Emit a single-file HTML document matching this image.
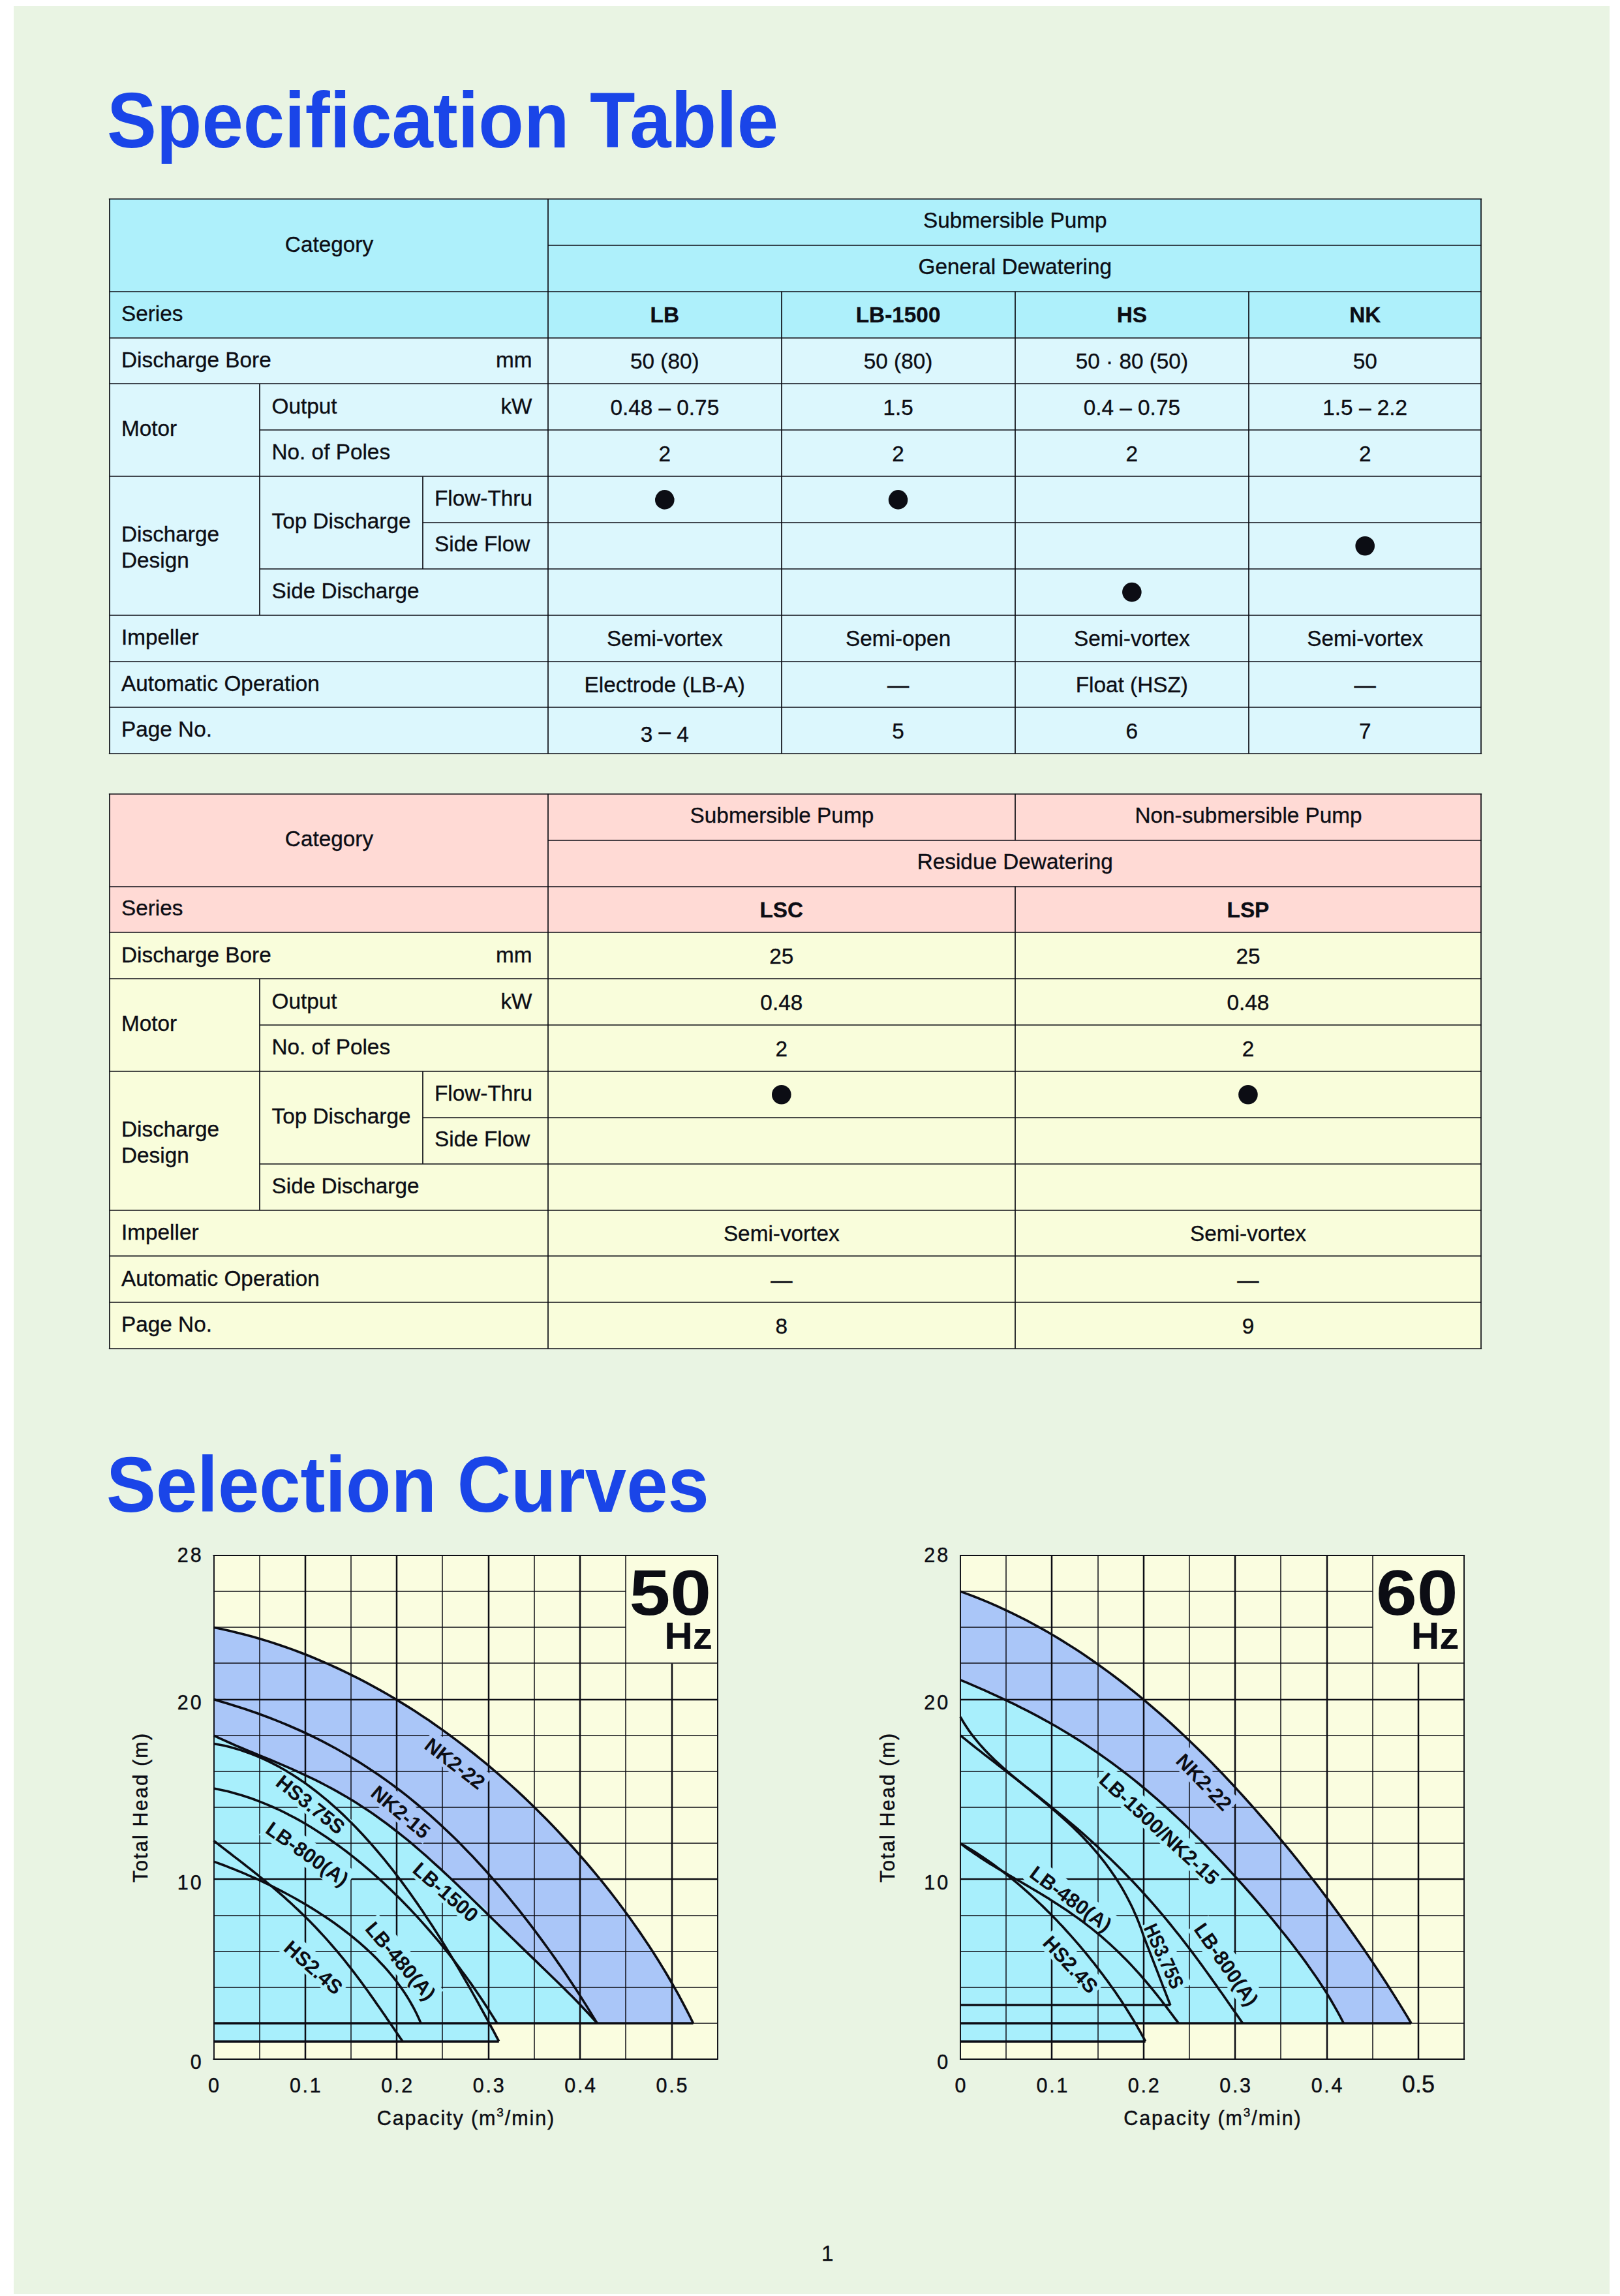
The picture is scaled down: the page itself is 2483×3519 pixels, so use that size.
<!DOCTYPE html>
<html lang="en"><head><meta charset="utf-8"><title>Specification Table</title>
<style>
html,body{margin:0;padding:0;background:#fff}
svg{display:block;font-family:"Liberation Sans", sans-serif}
svg text{white-space:pre}
</style></head><body>
<svg width="2483" height="3519" viewBox="0 0 2483 3519">
<rect x="0.00" y="0.00" width="2483.00" height="3519.00" fill="#ffffff"/>
<rect x="21.00" y="9.00" width="2446.00" height="3507.00" fill="#e9f4e3"/>
<text transform="translate(163.9,225.8) scale(0.941,1)" font-size="121" font-weight="bold" fill="#1a45e8">Specification Table</text>
<text transform="translate(163.0,2316.6) scale(0.941,1)" font-size="121" font-weight="bold" fill="#1a45e8">Selection Curves</text>
<rect x="167.70" y="305.00" width="2102.60" height="212.58" fill="#aef0fb"/>
<rect x="167.70" y="517.58" width="2102.60" height="637.74" fill="#dcf7fd"/>
<line x1="166.85" y1="305.00" x2="2271.15" y2="305.00" stroke="#0c0d14" stroke-width="1.7" stroke-linecap="butt"/>
<line x1="840.00" y1="376.00" x2="2270.30" y2="376.00" stroke="#0c0d14" stroke-width="1.7" stroke-linecap="butt"/>
<line x1="167.70" y1="447.00" x2="2270.30" y2="447.00" stroke="#0c0d14" stroke-width="1.7" stroke-linecap="butt"/>
<line x1="167.70" y1="518.00" x2="2270.30" y2="518.00" stroke="#0c0d14" stroke-width="1.7" stroke-linecap="butt"/>
<line x1="167.70" y1="588.00" x2="2270.30" y2="588.00" stroke="#0c0d14" stroke-width="1.7" stroke-linecap="butt"/>
<line x1="398.20" y1="659.00" x2="2270.30" y2="659.00" stroke="#0c0d14" stroke-width="1.7" stroke-linecap="butt"/>
<line x1="167.70" y1="730.00" x2="2270.30" y2="730.00" stroke="#0c0d14" stroke-width="1.7" stroke-linecap="butt"/>
<line x1="647.70" y1="801.00" x2="2270.30" y2="801.00" stroke="#0c0d14" stroke-width="1.7" stroke-linecap="butt"/>
<line x1="398.20" y1="872.00" x2="2270.30" y2="872.00" stroke="#0c0d14" stroke-width="1.7" stroke-linecap="butt"/>
<line x1="167.70" y1="943.00" x2="2270.30" y2="943.00" stroke="#0c0d14" stroke-width="1.7" stroke-linecap="butt"/>
<line x1="167.70" y1="1014.00" x2="2270.30" y2="1014.00" stroke="#0c0d14" stroke-width="1.7" stroke-linecap="butt"/>
<line x1="167.70" y1="1084.00" x2="2270.30" y2="1084.00" stroke="#0c0d14" stroke-width="1.7" stroke-linecap="butt"/>
<line x1="166.85" y1="1155.00" x2="2271.15" y2="1155.00" stroke="#0c0d14" stroke-width="1.7" stroke-linecap="butt"/>
<line x1="168.00" y1="305.00" x2="168.00" y2="1155.32" stroke="#0c0d14" stroke-width="1.7" stroke-linecap="butt"/>
<line x1="2270.00" y1="305.00" x2="2270.00" y2="1155.32" stroke="#0c0d14" stroke-width="1.7" stroke-linecap="butt"/>
<line x1="840.00" y1="305.00" x2="840.00" y2="1155.32" stroke="#0c0d14" stroke-width="1.7" stroke-linecap="butt"/>
<line x1="398.00" y1="588.44" x2="398.00" y2="942.74" stroke="#0c0d14" stroke-width="1.7" stroke-linecap="butt"/>
<line x1="648.00" y1="730.16" x2="648.00" y2="871.88" stroke="#0c0d14" stroke-width="1.7" stroke-linecap="butt"/>
<line x1="1198.00" y1="446.72" x2="1198.00" y2="1155.32" stroke="#0c0d14" stroke-width="1.7" stroke-linecap="butt"/>
<line x1="1556.00" y1="446.72" x2="1556.00" y2="1155.32" stroke="#0c0d14" stroke-width="1.7" stroke-linecap="butt"/>
<line x1="1914.00" y1="446.72" x2="1914.00" y2="1155.32" stroke="#0c0d14" stroke-width="1.7" stroke-linecap="butt"/>
<text x="504.45" y="385.60" font-size="33.33" text-anchor="middle" font-weight="normal" fill="#0c0d14" stroke="#0c0d14" stroke-width="0.35">Category</text>
<text x="186.00" y="491.52" font-size="33.33" text-anchor="start" font-weight="normal" fill="#0c0d14" stroke="#0c0d14" stroke-width="0.35">Series</text>
<text x="186.00" y="563.28" font-size="33.33" text-anchor="start" font-weight="normal" fill="#0c0d14" stroke="#0c0d14" stroke-width="0.35">Discharge Bore</text>
<text x="815.50" y="563.28" font-size="33.33" text-anchor="end" font-weight="normal" fill="#0c0d14" stroke="#0c0d14" stroke-width="0.35">mm</text>
<text x="186.00" y="668.44" font-size="33.33" text-anchor="start" font-weight="normal" fill="#0c0d14" stroke="#0c0d14" stroke-width="0.35">Motor</text>
<text x="416.50" y="634.44" font-size="33.33" text-anchor="start" font-weight="normal" fill="#0c0d14" stroke="#0c0d14" stroke-width="0.35">Output</text>
<text x="815.50" y="634.44" font-size="33.33" text-anchor="end" font-weight="normal" fill="#0c0d14" stroke="#0c0d14" stroke-width="0.35">kW</text>
<text x="416.50" y="704.00" font-size="33.33" text-anchor="start" font-weight="normal" fill="#0c0d14" stroke="#0c0d14" stroke-width="0.35">No. of Poles</text>
<text x="186.00" y="830.06" font-size="33.33" text-anchor="start" font-weight="normal" fill="#0c0d14" stroke="#0c0d14" stroke-width="0.35">Discharge</text>
<text x="186.00" y="870.06" font-size="33.33" text-anchor="start" font-weight="normal" fill="#0c0d14" stroke="#0c0d14" stroke-width="0.35">Design</text>
<text x="416.50" y="810.06" font-size="33.33" text-anchor="start" font-weight="normal" fill="#0c0d14" stroke="#0c0d14" stroke-width="0.35">Top Discharge</text>
<text x="666.00" y="774.86" font-size="33.33" text-anchor="start" font-weight="normal" fill="#0c0d14" stroke="#0c0d14" stroke-width="0.35">Flow-Thru</text>
<text x="666.00" y="845.22" font-size="33.33" text-anchor="start" font-weight="normal" fill="#0c0d14" stroke="#0c0d14" stroke-width="0.35">Side Flow</text>
<text x="416.50" y="916.78" font-size="33.33" text-anchor="start" font-weight="normal" fill="#0c0d14" stroke="#0c0d14" stroke-width="0.35">Side Discharge</text>
<text x="186.00" y="988.24" font-size="33.33" text-anchor="start" font-weight="normal" fill="#0c0d14" stroke="#0c0d14" stroke-width="0.35">Impeller</text>
<text x="186.00" y="1059.40" font-size="33.33" text-anchor="start" font-weight="normal" fill="#0c0d14" stroke="#0c0d14" stroke-width="0.35">Automatic Operation</text>
<text x="186.00" y="1129.46" font-size="33.33" text-anchor="start" font-weight="normal" fill="#0c0d14" stroke="#0c0d14" stroke-width="0.35">Page No.</text>
<text x="1555.75" y="349.40" font-size="33.33" text-anchor="middle" font-weight="normal" fill="#0c0d14" stroke="#0c0d14" stroke-width="0.35">Submersible Pump</text>
<text x="1555.75" y="420.26" font-size="33.33" text-anchor="middle" font-weight="normal" fill="#0c0d14" stroke="#0c0d14" stroke-width="0.35">General Dewatering</text>
<text x="1018.80" y="494.32" font-size="33.33" text-anchor="middle" font-weight="bold" fill="#0c0d14" stroke="#0c0d14" stroke-width="0.35">LB</text>
<text x="1376.60" y="494.32" font-size="33.33" text-anchor="middle" font-weight="bold" fill="#0c0d14" stroke="#0c0d14" stroke-width="0.35">LB-1500</text>
<text x="1734.85" y="494.32" font-size="33.33" text-anchor="middle" font-weight="bold" fill="#0c0d14" stroke="#0c0d14" stroke-width="0.35">HS</text>
<text x="2092.20" y="494.32" font-size="33.33" text-anchor="middle" font-weight="bold" fill="#0c0d14" stroke="#0c0d14" stroke-width="0.35">NK</text>
<text x="1018.80" y="565.18" font-size="33.33" text-anchor="middle" font-weight="normal" fill="#0c0d14" stroke="#0c0d14" stroke-width="0.35">50 (80)</text>
<text x="1376.60" y="565.18" font-size="33.33" text-anchor="middle" font-weight="normal" fill="#0c0d14" stroke="#0c0d14" stroke-width="0.35">50 (80)</text>
<text x="1734.85" y="565.18" font-size="33.33" text-anchor="middle" font-weight="normal" fill="#0c0d14" stroke="#0c0d14" stroke-width="0.35">50 · 80 (50)</text>
<text x="2092.20" y="565.18" font-size="33.33" text-anchor="middle" font-weight="normal" fill="#0c0d14" stroke="#0c0d14" stroke-width="0.35">50</text>
<text x="1018.80" y="636.04" font-size="33.33" text-anchor="middle" font-weight="normal" fill="#0c0d14" stroke="#0c0d14" stroke-width="0.35">0.48 – 0.75</text>
<text x="1376.60" y="636.04" font-size="33.33" text-anchor="middle" font-weight="normal" fill="#0c0d14" stroke="#0c0d14" stroke-width="0.35">1.5</text>
<text x="1734.85" y="636.04" font-size="33.33" text-anchor="middle" font-weight="normal" fill="#0c0d14" stroke="#0c0d14" stroke-width="0.35">0.4 – 0.75</text>
<text x="2092.20" y="636.04" font-size="33.33" text-anchor="middle" font-weight="normal" fill="#0c0d14" stroke="#0c0d14" stroke-width="0.35">1.5 – 2.2</text>
<text x="1018.80" y="706.90" font-size="33.33" text-anchor="middle" font-weight="normal" fill="#0c0d14" stroke="#0c0d14" stroke-width="0.35">2</text>
<text x="1376.60" y="706.90" font-size="33.33" text-anchor="middle" font-weight="normal" fill="#0c0d14" stroke="#0c0d14" stroke-width="0.35">2</text>
<text x="1734.85" y="706.90" font-size="33.33" text-anchor="middle" font-weight="normal" fill="#0c0d14" stroke="#0c0d14" stroke-width="0.35">2</text>
<text x="2092.20" y="706.90" font-size="33.33" text-anchor="middle" font-weight="normal" fill="#0c0d14" stroke="#0c0d14" stroke-width="0.35">2</text>
<circle cx="1018.80" cy="765.89" r="14.8" fill="#0c0d14"/>
<circle cx="1376.60" cy="765.89" r="14.8" fill="#0c0d14"/>
<circle cx="2092.20" cy="836.75" r="14.8" fill="#0c0d14"/>
<circle cx="1734.85" cy="907.61" r="14.8" fill="#0c0d14"/>
<text x="1018.80" y="990.34" font-size="33.33" text-anchor="middle" font-weight="normal" fill="#0c0d14" stroke="#0c0d14" stroke-width="0.35">Semi-vortex</text>
<text x="1376.60" y="990.34" font-size="33.33" text-anchor="middle" font-weight="normal" fill="#0c0d14" stroke="#0c0d14" stroke-width="0.35">Semi-open</text>
<text x="1734.85" y="990.34" font-size="33.33" text-anchor="middle" font-weight="normal" fill="#0c0d14" stroke="#0c0d14" stroke-width="0.35">Semi-vortex</text>
<text x="2092.20" y="990.34" font-size="33.33" text-anchor="middle" font-weight="normal" fill="#0c0d14" stroke="#0c0d14" stroke-width="0.35">Semi-vortex</text>
<text x="1018.80" y="1061.20" font-size="33.33" text-anchor="middle" font-weight="normal" fill="#0c0d14" stroke="#0c0d14" stroke-width="0.35">Electrode (LB-A)</text>
<text x="1376.60" y="1061.20" font-size="33.33" text-anchor="middle" font-weight="normal" fill="#0c0d14" stroke="#0c0d14" stroke-width="0.35">—</text>
<text x="1734.85" y="1061.20" font-size="33.33" text-anchor="middle" font-weight="normal" fill="#0c0d14" stroke="#0c0d14" stroke-width="0.35">Float (HSZ)</text>
<text x="2092.20" y="1061.20" font-size="33.33" text-anchor="middle" font-weight="normal" fill="#0c0d14" stroke="#0c0d14" stroke-width="0.35">—</text>
<text x="1018.80" y="1136.76" font-size="33.33" text-anchor="middle" font-weight="normal" fill="#0c0d14" stroke="#0c0d14" stroke-width="0.35">3 <tspan dy="-5">–</tspan><tspan dy="5"> </tspan>4</text>
<text x="1376.60" y="1132.06" font-size="33.33" text-anchor="middle" font-weight="normal" fill="#0c0d14" stroke="#0c0d14" stroke-width="0.35">5</text>
<text x="1734.85" y="1132.06" font-size="33.33" text-anchor="middle" font-weight="normal" fill="#0c0d14" stroke="#0c0d14" stroke-width="0.35">6</text>
<text x="2092.20" y="1132.06" font-size="33.33" text-anchor="middle" font-weight="normal" fill="#0c0d14" stroke="#0c0d14" stroke-width="0.35">7</text>
<rect x="167.70" y="1216.80" width="2102.60" height="212.58" fill="#ffdad5"/>
<rect x="167.70" y="1429.38" width="2102.60" height="637.74" fill="#f9fddb"/>
<line x1="166.85" y1="1217.00" x2="2271.15" y2="1217.00" stroke="#0c0d14" stroke-width="1.7" stroke-linecap="butt"/>
<line x1="840.00" y1="1288.00" x2="2270.30" y2="1288.00" stroke="#0c0d14" stroke-width="1.7" stroke-linecap="butt"/>
<line x1="167.70" y1="1359.00" x2="2270.30" y2="1359.00" stroke="#0c0d14" stroke-width="1.7" stroke-linecap="butt"/>
<line x1="167.70" y1="1429.00" x2="2270.30" y2="1429.00" stroke="#0c0d14" stroke-width="1.7" stroke-linecap="butt"/>
<line x1="167.70" y1="1500.00" x2="2270.30" y2="1500.00" stroke="#0c0d14" stroke-width="1.7" stroke-linecap="butt"/>
<line x1="398.20" y1="1571.00" x2="2270.30" y2="1571.00" stroke="#0c0d14" stroke-width="1.7" stroke-linecap="butt"/>
<line x1="167.70" y1="1642.00" x2="2270.30" y2="1642.00" stroke="#0c0d14" stroke-width="1.7" stroke-linecap="butt"/>
<line x1="647.70" y1="1713.00" x2="2270.30" y2="1713.00" stroke="#0c0d14" stroke-width="1.7" stroke-linecap="butt"/>
<line x1="398.20" y1="1784.00" x2="2270.30" y2="1784.00" stroke="#0c0d14" stroke-width="1.7" stroke-linecap="butt"/>
<line x1="167.70" y1="1855.00" x2="2270.30" y2="1855.00" stroke="#0c0d14" stroke-width="1.7" stroke-linecap="butt"/>
<line x1="167.70" y1="1925.00" x2="2270.30" y2="1925.00" stroke="#0c0d14" stroke-width="1.7" stroke-linecap="butt"/>
<line x1="167.70" y1="1996.00" x2="2270.30" y2="1996.00" stroke="#0c0d14" stroke-width="1.7" stroke-linecap="butt"/>
<line x1="166.85" y1="2067.00" x2="2271.15" y2="2067.00" stroke="#0c0d14" stroke-width="1.7" stroke-linecap="butt"/>
<line x1="168.00" y1="1216.80" x2="168.00" y2="2067.12" stroke="#0c0d14" stroke-width="1.7" stroke-linecap="butt"/>
<line x1="2270.00" y1="1216.80" x2="2270.00" y2="2067.12" stroke="#0c0d14" stroke-width="1.7" stroke-linecap="butt"/>
<line x1="840.00" y1="1216.80" x2="840.00" y2="2067.12" stroke="#0c0d14" stroke-width="1.7" stroke-linecap="butt"/>
<line x1="398.00" y1="1500.24" x2="398.00" y2="1854.54" stroke="#0c0d14" stroke-width="1.7" stroke-linecap="butt"/>
<line x1="648.00" y1="1641.96" x2="648.00" y2="1783.68" stroke="#0c0d14" stroke-width="1.7" stroke-linecap="butt"/>
<line x1="1556.00" y1="1358.52" x2="1556.00" y2="2067.12" stroke="#0c0d14" stroke-width="1.7" stroke-linecap="butt"/>
<text x="504.45" y="1297.40" font-size="33.33" text-anchor="middle" font-weight="normal" fill="#0c0d14" stroke="#0c0d14" stroke-width="0.35">Category</text>
<text x="186.00" y="1403.32" font-size="33.33" text-anchor="start" font-weight="normal" fill="#0c0d14" stroke="#0c0d14" stroke-width="0.35">Series</text>
<text x="186.00" y="1475.08" font-size="33.33" text-anchor="start" font-weight="normal" fill="#0c0d14" stroke="#0c0d14" stroke-width="0.35">Discharge Bore</text>
<text x="815.50" y="1475.08" font-size="33.33" text-anchor="end" font-weight="normal" fill="#0c0d14" stroke="#0c0d14" stroke-width="0.35">mm</text>
<text x="186.00" y="1580.24" font-size="33.33" text-anchor="start" font-weight="normal" fill="#0c0d14" stroke="#0c0d14" stroke-width="0.35">Motor</text>
<text x="416.50" y="1546.24" font-size="33.33" text-anchor="start" font-weight="normal" fill="#0c0d14" stroke="#0c0d14" stroke-width="0.35">Output</text>
<text x="815.50" y="1546.24" font-size="33.33" text-anchor="end" font-weight="normal" fill="#0c0d14" stroke="#0c0d14" stroke-width="0.35">kW</text>
<text x="416.50" y="1615.80" font-size="33.33" text-anchor="start" font-weight="normal" fill="#0c0d14" stroke="#0c0d14" stroke-width="0.35">No. of Poles</text>
<text x="186.00" y="1741.86" font-size="33.33" text-anchor="start" font-weight="normal" fill="#0c0d14" stroke="#0c0d14" stroke-width="0.35">Discharge</text>
<text x="186.00" y="1781.86" font-size="33.33" text-anchor="start" font-weight="normal" fill="#0c0d14" stroke="#0c0d14" stroke-width="0.35">Design</text>
<text x="416.50" y="1721.86" font-size="33.33" text-anchor="start" font-weight="normal" fill="#0c0d14" stroke="#0c0d14" stroke-width="0.35">Top Discharge</text>
<text x="666.00" y="1686.66" font-size="33.33" text-anchor="start" font-weight="normal" fill="#0c0d14" stroke="#0c0d14" stroke-width="0.35">Flow-Thru</text>
<text x="666.00" y="1757.02" font-size="33.33" text-anchor="start" font-weight="normal" fill="#0c0d14" stroke="#0c0d14" stroke-width="0.35">Side Flow</text>
<text x="416.50" y="1828.58" font-size="33.33" text-anchor="start" font-weight="normal" fill="#0c0d14" stroke="#0c0d14" stroke-width="0.35">Side Discharge</text>
<text x="186.00" y="1900.04" font-size="33.33" text-anchor="start" font-weight="normal" fill="#0c0d14" stroke="#0c0d14" stroke-width="0.35">Impeller</text>
<text x="186.00" y="1971.20" font-size="33.33" text-anchor="start" font-weight="normal" fill="#0c0d14" stroke="#0c0d14" stroke-width="0.35">Automatic Operation</text>
<text x="186.00" y="2041.26" font-size="33.33" text-anchor="start" font-weight="normal" fill="#0c0d14" stroke="#0c0d14" stroke-width="0.35">Page No.</text>
<text x="1198.40" y="1261.20" font-size="33.33" text-anchor="middle" font-weight="normal" fill="#0c0d14" stroke="#0c0d14" stroke-width="0.35">Submersible Pump</text>
<text x="1913.55" y="1261.20" font-size="33.33" text-anchor="middle" font-weight="normal" fill="#0c0d14" stroke="#0c0d14" stroke-width="0.35">Non-submersible Pump</text>
<text x="1555.75" y="1332.06" font-size="33.33" text-anchor="middle" font-weight="normal" fill="#0c0d14" stroke="#0c0d14" stroke-width="0.35">Residue Dewatering</text>
<text x="1197.80" y="1406.12" font-size="33.33" text-anchor="middle" font-weight="bold" fill="#0c0d14" stroke="#0c0d14" stroke-width="0.35">LSC</text>
<text x="1912.95" y="1406.12" font-size="33.33" text-anchor="middle" font-weight="bold" fill="#0c0d14" stroke="#0c0d14" stroke-width="0.35">LSP</text>
<text x="1197.80" y="1476.98" font-size="33.33" text-anchor="middle" font-weight="normal" fill="#0c0d14" stroke="#0c0d14" stroke-width="0.35">25</text>
<text x="1912.95" y="1476.98" font-size="33.33" text-anchor="middle" font-weight="normal" fill="#0c0d14" stroke="#0c0d14" stroke-width="0.35">25</text>
<text x="1197.80" y="1547.84" font-size="33.33" text-anchor="middle" font-weight="normal" fill="#0c0d14" stroke="#0c0d14" stroke-width="0.35">0.48</text>
<text x="1912.95" y="1547.84" font-size="33.33" text-anchor="middle" font-weight="normal" fill="#0c0d14" stroke="#0c0d14" stroke-width="0.35">0.48</text>
<text x="1197.80" y="1618.70" font-size="33.33" text-anchor="middle" font-weight="normal" fill="#0c0d14" stroke="#0c0d14" stroke-width="0.35">2</text>
<text x="1912.95" y="1618.70" font-size="33.33" text-anchor="middle" font-weight="normal" fill="#0c0d14" stroke="#0c0d14" stroke-width="0.35">2</text>
<circle cx="1197.80" cy="1677.69" r="14.8" fill="#0c0d14"/>
<circle cx="1912.95" cy="1677.69" r="14.8" fill="#0c0d14"/>
<text x="1197.80" y="1902.14" font-size="33.33" text-anchor="middle" font-weight="normal" fill="#0c0d14" stroke="#0c0d14" stroke-width="0.35">Semi-vortex</text>
<text x="1912.95" y="1902.14" font-size="33.33" text-anchor="middle" font-weight="normal" fill="#0c0d14" stroke="#0c0d14" stroke-width="0.35">Semi-vortex</text>
<text x="1197.80" y="1973.00" font-size="33.33" text-anchor="middle" font-weight="normal" fill="#0c0d14" stroke="#0c0d14" stroke-width="0.35">—</text>
<text x="1912.95" y="1973.00" font-size="33.33" text-anchor="middle" font-weight="normal" fill="#0c0d14" stroke="#0c0d14" stroke-width="0.35">—</text>
<text x="1197.80" y="2043.86" font-size="33.33" text-anchor="middle" font-weight="normal" fill="#0c0d14" stroke="#0c0d14" stroke-width="0.35">8</text>
<text x="1912.95" y="2043.86" font-size="33.33" text-anchor="middle" font-weight="normal" fill="#0c0d14" stroke="#0c0d14" stroke-width="0.35">9</text>
<line x1="1556.00" y1="1216.80" x2="1556.00" y2="1287.66" stroke="#0c0d14" stroke-width="1.7" stroke-linecap="butt"/>
<rect x="327.50" y="2383.96" width="772.20" height="772.24" fill="#fafde0"/>
<polygon points="327.5,2494.3 339.7,2496.8 351.9,2499.5 364.0,2502.4 376.1,2505.5 388.2,2508.8 400.1,2512.3 412.1,2515.9 423.9,2519.8 435.7,2523.8 447.5,2527.9 459.1,2532.3 470.8,2536.8 482.3,2541.5 493.8,2546.4 505.2,2551.4 516.5,2556.5 527.8,2561.8 539.0,2567.3 550.1,2572.9 561.1,2578.7 572.1,2584.6 583.0,2590.6 593.8,2596.8 604.6,2603.1 615.2,2609.6 625.8,2616.1 636.3,2622.8 646.7,2629.7 657.1,2636.6 667.3,2643.7 677.5,2650.9 687.6,2658.2 697.6,2665.6 707.5,2673.1 717.4,2680.7 727.2,2688.5 736.9,2696.3 746.5,2704.2 756.0,2712.3 765.4,2720.4 774.8,2728.7 784.1,2737.0 793.3,2745.4 802.4,2753.9 811.4,2762.5 820.4,2771.2 829.2,2780.0 838.0,2788.8 846.7,2797.7 855.3,2806.8 863.8,2815.9 872.2,2825.0 880.6,2834.3 888.8,2843.6 897.0,2853.0 905.1,2862.5 913.1,2872.1 921.0,2881.7 928.8,2891.4 936.5,2901.2 944.1,2911.0 951.6,2921.0 959.0,2931.0 966.3,2941.0 973.5,2951.2 980.6,2961.4 987.6,2971.7 994.5,2982.0 1001.3,2992.5 1008.0,3003.0 1014.5,3013.6 1021.0,3024.2 1027.3,3035.0 1033.5,3045.8 1039.6,3056.7 1045.5,3067.6 1051.3,3078.7 1057.0,3089.8 1062.5,3101.0 327.5,3101.0" fill="#aac6f8"/>
<polygon points="327.5,2659.8 335.9,2663.8 344.3,2667.7 352.9,2671.5 361.5,2675.3 370.2,2679.0 378.9,2682.6 387.6,2686.2 396.4,2689.8 405.1,2693.4 413.9,2697.0 422.6,2700.7 431.3,2704.4 440.0,2708.1 448.7,2711.9 457.3,2715.8 465.9,2719.8 474.4,2723.8 482.9,2727.9 491.3,2732.2 499.6,2736.5 507.9,2740.9 516.1,2745.4 524.3,2750.1 532.4,2754.8 540.4,2759.6 548.3,2764.6 556.2,2769.7 564.0,2774.8 571.8,2780.1 579.4,2785.5 587.0,2791.0 594.6,2796.5 602.0,2802.2 609.4,2808.0 616.8,2813.8 624.1,2819.7 631.3,2825.7 638.5,2831.8 645.6,2838.0 652.7,2844.2 659.7,2850.5 666.7,2856.8 673.7,2863.2 680.6,2869.6 687.5,2876.0 694.4,2882.5 701.3,2889.0 708.1,2895.6 714.9,2902.1 721.7,2908.7 728.4,2915.3 735.2,2921.9 742.0,2928.5 748.7,2935.1 755.5,2941.7 762.2,2948.3 768.9,2954.9 775.7,2961.4 782.4,2968.0 789.2,2974.5 795.9,2981.1 802.7,2987.6 809.4,2994.1 816.1,3000.6 822.9,3007.1 829.6,3013.7 836.4,3020.2 843.1,3026.7 849.8,3033.2 856.5,3039.7 863.2,3046.3 869.8,3052.9 876.5,3059.6 883.1,3066.3 889.6,3073.1 896.1,3079.9 902.5,3086.8 908.9,3093.9 915.2,3101.0 750.0,3101.0 752.8,3106.4 756.8,3113.7 760.7,3121.2 764.7,3128.6 327.5,3128.6" fill="#a8effc"/>
<line x1="328.00" y1="2383.96" x2="328.00" y2="3156.20" stroke="#0c0d14" stroke-width="1.9" stroke-linecap="butt"/>
<line x1="398.00" y1="2383.96" x2="398.00" y2="3156.20" stroke="#0c0d14" stroke-width="1.5" stroke-linecap="butt"/>
<line x1="468.00" y1="2383.96" x2="468.00" y2="3156.20" stroke="#0c0d14" stroke-width="2.5" stroke-linecap="butt"/>
<line x1="538.00" y1="2383.96" x2="538.00" y2="3156.20" stroke="#0c0d14" stroke-width="1.5" stroke-linecap="butt"/>
<line x1="608.00" y1="2383.96" x2="608.00" y2="3156.20" stroke="#0c0d14" stroke-width="2.5" stroke-linecap="butt"/>
<line x1="678.00" y1="2383.96" x2="678.00" y2="3156.20" stroke="#0c0d14" stroke-width="1.5" stroke-linecap="butt"/>
<line x1="749.00" y1="2383.96" x2="749.00" y2="3156.20" stroke="#0c0d14" stroke-width="2.5" stroke-linecap="butt"/>
<line x1="819.00" y1="2383.96" x2="819.00" y2="3156.20" stroke="#0c0d14" stroke-width="1.5" stroke-linecap="butt"/>
<line x1="889.00" y1="2383.96" x2="889.00" y2="3156.20" stroke="#0c0d14" stroke-width="2.5" stroke-linecap="butt"/>
<line x1="959.00" y1="2383.96" x2="959.00" y2="3156.20" stroke="#0c0d14" stroke-width="1.5" stroke-linecap="butt"/>
<line x1="1030.00" y1="2549.44" x2="1030.00" y2="3156.20" stroke="#0c0d14" stroke-width="2.5" stroke-linecap="butt"/>
<line x1="1100.00" y1="2383.96" x2="1100.00" y2="3156.20" stroke="#0c0d14" stroke-width="1.9" stroke-linecap="butt"/>
<line x1="326.55" y1="3156.00" x2="1100.65" y2="3156.00" stroke="#0c0d14" stroke-width="1.9" stroke-linecap="butt"/>
<line x1="327.50" y1="3101.00" x2="1099.70" y2="3101.00" stroke="#0c0d14" stroke-width="1.5" stroke-linecap="butt"/>
<line x1="327.50" y1="3046.00" x2="1099.70" y2="3046.00" stroke="#0c0d14" stroke-width="1.5" stroke-linecap="butt"/>
<line x1="327.50" y1="2991.00" x2="1099.70" y2="2991.00" stroke="#0c0d14" stroke-width="1.5" stroke-linecap="butt"/>
<line x1="327.50" y1="2936.00" x2="1099.70" y2="2936.00" stroke="#0c0d14" stroke-width="1.5" stroke-linecap="butt"/>
<line x1="327.50" y1="2880.00" x2="1099.70" y2="2880.00" stroke="#0c0d14" stroke-width="2.5" stroke-linecap="butt"/>
<line x1="327.50" y1="2825.00" x2="1099.70" y2="2825.00" stroke="#0c0d14" stroke-width="1.5" stroke-linecap="butt"/>
<line x1="327.50" y1="2770.00" x2="1099.70" y2="2770.00" stroke="#0c0d14" stroke-width="1.5" stroke-linecap="butt"/>
<line x1="327.50" y1="2715.00" x2="1099.70" y2="2715.00" stroke="#0c0d14" stroke-width="1.5" stroke-linecap="butt"/>
<line x1="327.50" y1="2660.00" x2="1099.70" y2="2660.00" stroke="#0c0d14" stroke-width="1.5" stroke-linecap="butt"/>
<line x1="327.50" y1="2605.00" x2="1099.70" y2="2605.00" stroke="#0c0d14" stroke-width="2.5" stroke-linecap="butt"/>
<line x1="327.50" y1="2549.00" x2="1099.70" y2="2549.00" stroke="#0c0d14" stroke-width="1.5" stroke-linecap="butt"/>
<line x1="327.50" y1="2494.00" x2="959.30" y2="2494.00" stroke="#0c0d14" stroke-width="1.5" stroke-linecap="butt"/>
<line x1="327.50" y1="2439.00" x2="959.30" y2="2439.00" stroke="#0c0d14" stroke-width="1.5" stroke-linecap="butt"/>
<line x1="326.55" y1="2384.00" x2="1100.65" y2="2384.00" stroke="#0c0d14" stroke-width="1.9" stroke-linecap="butt"/>
<line x1="327.50" y1="3101.00" x2="1062.49" y2="3101.00" stroke="#0c0d14" stroke-width="3.5" stroke-linecap="butt"/>
<line x1="327.50" y1="3129.00" x2="764.71" y2="3129.00" stroke="#0c0d14" stroke-width="3.5" stroke-linecap="butt"/>
<rect transform="translate(648.5,2678.7) rotate(37.8)" x="-4" y="-31.5" width="114.8" height="36.5" fill="#aac6f8"/>
<rect transform="translate(566.2,2751.2) rotate(40.0)" x="-4" y="-31.5" width="114.8" height="36.5" fill="#aac6f8"/>
<rect transform="translate(420.8,2735.6) rotate(38.5)" x="-4" y="-31.5" width="132.1" height="36.5" fill="#a8effc"/>
<rect transform="translate(405.0,2807.9) rotate(35.3)" x="-4" y="-31.5" width="154.4" height="39.5" fill="#a8effc"/>
<rect transform="translate(630.5,2868.6) rotate(41.0)" x="-4" y="-31.5" width="128.6" height="36.5" fill="#a8effc"/>
<rect transform="translate(558.3,2956.9) rotate(49.4)" x="-4" y="-31.5" width="154.4" height="39.5" fill="#a8effc"/>
<rect transform="translate(433.1,2988.6) rotate(41.2)" x="-4" y="-31.5" width="114.8" height="36.5" fill="#a8effc"/>
<polyline points="327.5,2494.3 339.7,2496.8 351.9,2499.5 364.0,2502.4 376.1,2505.5 388.2,2508.8 400.1,2512.3 412.1,2515.9 423.9,2519.8 435.7,2523.8 447.5,2527.9 459.1,2532.3 470.8,2536.8 482.3,2541.5 493.8,2546.4 505.2,2551.4 516.5,2556.5 527.8,2561.8 539.0,2567.3 550.1,2572.9 561.1,2578.7 572.1,2584.6 583.0,2590.6 593.8,2596.8 604.6,2603.1 615.2,2609.6 625.8,2616.1 636.3,2622.8 646.7,2629.7 657.1,2636.6 667.3,2643.7 677.5,2650.9 687.6,2658.2 697.6,2665.6 707.5,2673.1 717.4,2680.7 727.2,2688.5 736.9,2696.3 746.5,2704.2 756.0,2712.3 765.4,2720.4 774.8,2728.7 784.1,2737.0 793.3,2745.4 802.4,2753.9 811.4,2762.5 820.4,2771.2 829.2,2780.0 838.0,2788.8 846.7,2797.7 855.3,2806.8 863.8,2815.9 872.2,2825.0 880.6,2834.3 888.8,2843.6 897.0,2853.0 905.1,2862.5 913.1,2872.1 921.0,2881.7 928.8,2891.4 936.5,2901.2 944.1,2911.0 951.6,2921.0 959.0,2931.0 966.3,2941.0 973.5,2951.2 980.6,2961.4 987.6,2971.7 994.5,2982.0 1001.3,2992.5 1008.0,3003.0 1014.5,3013.6 1021.0,3024.2 1027.3,3035.0 1033.5,3045.8 1039.6,3056.7 1045.5,3067.6 1051.3,3078.7 1057.0,3089.8 1062.5,3101.0" fill="none" stroke="#0c0d14" stroke-width="3.6" stroke-linejoin="round"/>
<polyline points="327.5,2604.6 337.1,2607.4 346.6,2610.2 356.1,2613.2 365.7,2616.2 375.2,2619.3 384.6,2622.5 394.1,2625.8 403.5,2629.3 412.9,2632.8 422.2,2636.4 431.5,2640.2 440.8,2644.0 450.0,2648.0 459.1,2652.0 468.2,2656.2 477.3,2660.5 486.3,2664.9 495.2,2669.4 504.1,2674.1 512.9,2678.8 521.6,2683.7 530.3,2688.7 538.9,2693.7 547.4,2698.9 555.9,2704.2 564.3,2709.7 572.6,2715.2 580.9,2720.8 589.0,2726.5 597.2,2732.4 605.2,2738.3 613.2,2744.3 621.1,2750.4 628.9,2756.7 636.6,2763.0 644.3,2769.4 651.9,2775.9 659.4,2782.4 666.9,2789.1 674.3,2795.8 681.6,2802.7 688.9,2809.6 696.1,2816.5 703.2,2823.6 710.2,2830.7 717.2,2837.9 724.1,2845.1 731.0,2852.4 737.7,2859.8 744.5,2867.2 751.1,2874.7 757.7,2882.2 764.3,2889.8 770.7,2897.4 777.2,2905.1 783.5,2912.8 789.8,2920.6 796.1,2928.4 802.3,2936.3 808.4,2944.2 814.5,2952.1 820.5,2960.1 826.5,2968.1 832.4,2976.1 838.3,2984.2 844.1,2992.3 849.9,3000.4 855.6,3008.6 861.3,3016.8 866.9,3025.1 872.5,3033.4 878.0,3041.7 883.5,3050.0 888.9,3058.4 894.2,3066.9 899.6,3075.4 904.8,3083.9 910.0,3092.4 915.2,3101.0" fill="none" stroke="#0c0d14" stroke-width="3.6" stroke-linejoin="round"/>
<polyline points="327.5,2659.8 335.9,2663.8 344.3,2667.7 352.9,2671.5 361.5,2675.3 370.2,2679.0 378.9,2682.6 387.6,2686.2 396.4,2689.8 405.1,2693.4 413.9,2697.0 422.6,2700.7 431.3,2704.4 440.0,2708.1 448.7,2711.9 457.3,2715.8 465.9,2719.8 474.4,2723.8 482.9,2727.9 491.3,2732.2 499.6,2736.5 507.9,2740.9 516.1,2745.4 524.3,2750.1 532.4,2754.8 540.4,2759.6 548.3,2764.6 556.2,2769.7 564.0,2774.8 571.8,2780.1 579.4,2785.5 587.0,2791.0 594.6,2796.5 602.0,2802.2 609.4,2808.0 616.8,2813.8 624.1,2819.7 631.3,2825.7 638.5,2831.8 645.6,2838.0 652.7,2844.2 659.7,2850.5 666.7,2856.8 673.7,2863.2 680.6,2869.6 687.5,2876.0 694.4,2882.5 701.3,2889.0 708.1,2895.6 714.9,2902.1 721.7,2908.7 728.4,2915.3 735.2,2921.9 742.0,2928.5 748.7,2935.1 755.5,2941.7 762.2,2948.3 768.9,2954.9 775.7,2961.4 782.4,2968.0 789.2,2974.5 795.9,2981.1 802.7,2987.6 809.4,2994.1 816.1,3000.6 822.9,3007.1 829.6,3013.7 836.4,3020.2 843.1,3026.7 849.8,3033.2 856.5,3039.7 863.2,3046.3 869.8,3052.9 876.5,3059.6 883.1,3066.3 889.6,3073.1 896.1,3079.9 902.5,3086.8 908.9,3093.9 915.2,3101.0" fill="none" stroke="#0c0d14" stroke-width="3.6" stroke-linejoin="round"/>
<polyline points="327.5,2672.4 335.8,2673.9 344.0,2675.6 352.1,2677.6 360.1,2679.7 368.0,2682.1 375.8,2684.7 383.6,2687.5 391.3,2690.5 398.8,2693.7 406.3,2697.1 413.7,2700.6 421.0,2704.3 428.3,2708.2 435.4,2712.3 442.5,2716.5 449.4,2720.8 456.3,2725.3 463.2,2729.9 469.9,2734.6 476.5,2739.5 483.1,2744.5 489.6,2749.6 496.0,2754.8 502.4,2760.2 508.6,2765.6 514.8,2771.1 520.9,2776.7 527.0,2782.4 532.9,2788.2 538.8,2794.1 544.7,2800.0 550.4,2806.0 556.1,2812.1 561.7,2818.2 567.3,2824.4 572.7,2830.7 578.2,2837.0 583.5,2843.3 588.8,2849.7 594.0,2856.2 599.2,2862.7 604.3,2869.2 609.4,2875.8 614.4,2882.4 619.3,2889.1 624.2,2895.7 629.0,2902.4 633.8,2909.2 638.5,2915.9 643.2,2922.7 647.9,2929.5 652.4,2936.4 657.0,2943.2 661.5,2950.1 666.0,2957.0 670.4,2963.9 674.8,2970.9 679.1,2977.8 683.4,2984.8 687.7,2991.8 691.9,2998.8 696.1,3005.8 700.3,3012.8 704.5,3019.9 708.6,3027.0 712.7,3034.1 716.8,3041.2 720.9,3048.3 724.9,3055.5 728.9,3062.7 732.9,3069.9 736.9,3077.1 740.9,3084.4 744.9,3091.7 748.9,3099.0 752.8,3106.4 756.8,3113.7 760.7,3121.2 764.7,3128.6" fill="none" stroke="#0c0d14" stroke-width="3.6" stroke-linejoin="round"/>
<polyline points="327.5,2741.1 334.7,2742.5 341.9,2744.0 349.1,2745.6 356.2,2747.4 363.2,2749.4 370.3,2751.5 377.2,2753.7 384.2,2756.0 391.0,2758.5 397.9,2761.1 404.7,2763.8 411.4,2766.6 418.1,2769.5 424.8,2772.5 431.4,2775.7 438.0,2778.9 444.5,2782.3 451.0,2785.7 457.4,2789.2 463.8,2792.8 470.1,2796.5 476.4,2800.3 482.7,2804.2 488.9,2808.2 495.0,2812.2 501.1,2816.3 507.2,2820.5 513.2,2824.7 519.2,2829.0 525.1,2833.4 531.0,2837.8 536.8,2842.3 542.6,2846.9 548.3,2851.5 554.0,2856.2 559.6,2860.9 565.2,2865.7 570.8,2870.5 576.3,2875.4 581.8,2880.3 587.2,2885.3 592.5,2890.3 597.9,2895.4 603.1,2900.5 608.4,2905.6 613.6,2910.8 618.7,2916.0 623.8,2921.2 628.9,2926.5 633.9,2931.9 638.9,2937.2 643.8,2942.6 648.7,2948.1 653.5,2953.5 658.3,2959.0 663.1,2964.6 667.8,2970.1 672.5,2975.7 677.1,2981.4 681.7,2987.0 686.3,2992.7 690.8,2998.5 695.3,3004.2 699.7,3010.0 704.1,3015.8 708.4,3021.7 712.8,3027.6 717.1,3033.5 721.3,3039.4 725.5,3045.4 729.7,3051.5 733.8,3057.5 737.9,3063.6 742.0,3069.8 746.1,3075.9 750.1,3082.2 754.0,3088.4 758.0,3094.7 761.9,3101.0" fill="none" stroke="#0c0d14" stroke-width="3.6" stroke-linejoin="round"/>
<polyline points="327.5,2853.1 332.4,2854.9 337.4,2856.7 342.3,2858.5 347.2,2860.4 352.0,2862.3 356.9,2864.2 361.7,2866.2 366.6,2868.1 371.4,2870.2 376.2,2872.2 381.0,2874.3 385.8,2876.4 390.6,2878.5 395.3,2880.7 400.1,2882.9 404.8,2885.1 409.5,2887.3 414.2,2889.6 418.9,2891.9 423.6,2894.3 428.2,2896.6 432.9,2899.1 437.5,2901.5 442.1,2904.0 446.7,2906.5 451.3,2909.0 455.9,2911.6 460.4,2914.2 464.9,2916.8 469.5,2919.5 474.0,2922.2 478.4,2924.9 482.9,2927.7 487.3,2930.5 491.7,2933.4 496.1,2936.2 500.5,2939.2 504.8,2942.1 509.1,2945.1 513.4,2948.1 517.7,2951.2 521.9,2954.3 526.1,2957.5 530.3,2960.7 534.4,2963.9 538.5,2967.1 542.6,2970.5 546.6,2973.8 550.6,2977.2 554.5,2980.6 558.5,2984.1 562.3,2987.6 566.2,2991.2 570.0,2994.8 573.7,2998.4 577.4,3002.1 581.0,3005.9 584.6,3009.7 588.2,3013.5 591.7,3017.4 595.1,3021.3 598.5,3025.3 601.8,3029.3 605.0,3033.4 608.2,3037.5 611.3,3041.7 614.4,3045.9 617.4,3050.2 620.3,3054.6 623.2,3059.0 625.9,3063.4 628.6,3067.9 631.2,3072.5 633.8,3077.1 636.2,3081.8 638.6,3086.5 640.8,3091.3 643.0,3096.1 645.1,3101.0" fill="none" stroke="#0c0d14" stroke-width="3.6" stroke-linejoin="round"/>
<polyline points="327.5,2821.1 331.8,2824.4 336.0,2827.8 340.3,2831.1 344.6,2834.4 348.9,2837.7 353.2,2841.0 357.4,2844.3 361.7,2847.6 366.0,2850.9 370.2,2854.2 374.5,2857.5 378.7,2860.8 383.0,2864.1 387.2,2867.5 391.4,2870.8 395.6,2874.2 399.8,2877.6 404.0,2880.9 408.1,2884.4 412.3,2887.8 416.4,2891.2 420.5,2894.7 424.6,2898.2 428.6,2901.7 432.7,2905.2 436.7,2908.7 440.7,2912.3 444.7,2915.9 448.6,2919.5 452.5,2923.2 456.5,2926.9 460.3,2930.6 464.2,2934.3 468.0,2938.0 471.8,2941.8 475.6,2945.6 479.4,2949.5 483.1,2953.3 486.8,2957.2 490.5,2961.2 494.1,2965.1 497.8,2969.1 501.4,2973.1 504.9,2977.1 508.5,2981.2 512.0,2985.3 515.5,2989.4 519.0,2993.5 522.4,2997.7 525.9,3001.9 529.3,3006.1 532.6,3010.3 536.0,3014.6 539.3,3018.9 542.6,3023.2 545.9,3027.5 549.2,3031.8 552.4,3036.1 555.6,3040.5 558.8,3044.9 562.0,3049.3 565.2,3053.7 568.3,3058.1 571.4,3062.5 574.5,3066.9 577.6,3071.4 580.7,3075.8 583.8,3080.2 586.9,3084.7 589.9,3089.1 592.9,3093.6 596.0,3098.0 599.0,3102.4 602.0,3106.8 605.0,3111.2 608.0,3115.6 611.0,3119.9 614.0,3124.3 617.0,3128.6" fill="none" stroke="#0c0d14" stroke-width="3.6" stroke-linejoin="round"/>
<text transform="translate(648.5,2678.7) rotate(37.8) scale(1,1)" font-size="31" font-weight="bold" fill="#0c0d14">NK2-22</text>
<text transform="translate(566.2,2751.2) rotate(40.0) scale(1,1)" font-size="31" font-weight="bold" fill="#0c0d14">NK2-15</text>
<text transform="translate(420.8,2735.6) rotate(38.5) scale(1,1)" font-size="31" font-weight="bold" fill="#0c0d14">HS3.75S</text>
<text transform="translate(405.0,2807.9) rotate(35.3) scale(1,1)" font-size="31" font-weight="bold" fill="#0c0d14">LB-800(A)</text>
<text transform="translate(630.5,2868.6) rotate(41.0) scale(1,1)" font-size="31" font-weight="bold" fill="#0c0d14">LB-1500</text>
<text transform="translate(558.3,2956.9) rotate(49.4) scale(1,1)" font-size="31" font-weight="bold" fill="#0c0d14">LB-480(A)</text>
<text transform="translate(433.1,2988.6) rotate(41.2) scale(1,1)" font-size="31" font-weight="bold" fill="#0c0d14">HS2.4S</text>
<text transform="translate(1090.1,2475.4) scale(1.153,1)" font-size="98" font-weight="bold" fill="#0c0d14" text-anchor="end">50</text>
<text transform="translate(1092.0,2526.8) scale(1.06,1)" font-size="57" font-weight="bold" fill="#0c0d14" text-anchor="end">Hz</text>
<text x="311.8" y="2393.8" font-size="30.5" text-anchor="end" fill="#0c0d14" letter-spacing="3.0" stroke="#0c0d14" stroke-width="0.45">28</text>
<text x="311.8" y="2619.8" font-size="30.5" text-anchor="end" fill="#0c0d14" letter-spacing="3.0" stroke="#0c0d14" stroke-width="0.45">20</text>
<text x="311.8" y="2895.6" font-size="30.5" text-anchor="end" fill="#0c0d14" letter-spacing="3.0" stroke="#0c0d14" stroke-width="0.45">10</text>
<text x="311.8" y="3171.2" font-size="30.5" text-anchor="end" fill="#0c0d14" letter-spacing="3.0" stroke="#0c0d14" stroke-width="0.45">0</text>
<text x="328.9" y="3206.6" font-size="30.5" text-anchor="middle" fill="#0c0d14" letter-spacing="2.7" stroke="#0c0d14" stroke-width="0.45">0</text>
<text x="469.2" y="3206.6" font-size="30.5" text-anchor="middle" fill="#0c0d14" letter-spacing="2.7" stroke="#0c0d14" stroke-width="0.45">0.1</text>
<text x="609.6" y="3206.6" font-size="30.5" text-anchor="middle" fill="#0c0d14" letter-spacing="2.7" stroke="#0c0d14" stroke-width="0.45">0.2</text>
<text x="750.1" y="3206.6" font-size="30.5" text-anchor="middle" fill="#0c0d14" letter-spacing="2.7" stroke="#0c0d14" stroke-width="0.45">0.3</text>
<text x="890.5" y="3206.6" font-size="30.5" text-anchor="middle" fill="#0c0d14" letter-spacing="2.7" stroke="#0c0d14" stroke-width="0.45">0.4</text>
<text x="1030.8" y="3206.6" font-size="30.5" text-anchor="middle" fill="#0c0d14" letter-spacing="2.7" stroke="#0c0d14" stroke-width="0.45">0.5</text>
<text x="714.4" y="3256.8" font-size="30.5" text-anchor="middle" fill="#0c0d14" letter-spacing="1.9" stroke="#0c0d14" stroke-width="0.45">Capacity (m<tspan font-size="19" dy="-12.5">3</tspan><tspan dy="12.5">/min)</tspan></text>
<text transform="translate(226.0,2770.1) rotate(-90)" font-size="30.5" text-anchor="middle" fill="#0c0d14" letter-spacing="2.2" stroke="#0c0d14" stroke-width="0.45">Total Head (m)</text>
<rect x="1472.00" y="2383.96" width="772.20" height="772.24" fill="#fafde0"/>
<polygon points="1472.0,2439.1 1483.6,2443.4 1495.1,2447.8 1506.6,2452.4 1518.0,2457.2 1529.3,2462.1 1540.5,2467.3 1551.6,2472.6 1562.7,2478.1 1573.7,2483.7 1584.5,2489.5 1595.3,2495.4 1606.1,2501.5 1616.7,2507.8 1627.2,2514.1 1637.7,2520.7 1648.1,2527.3 1658.4,2534.1 1668.6,2541.0 1678.7,2548.0 1688.8,2555.2 1698.7,2562.4 1708.6,2569.8 1718.4,2577.3 1728.1,2584.9 1737.8,2592.6 1747.3,2600.4 1756.8,2608.3 1766.2,2616.3 1775.5,2624.3 1784.8,2632.5 1794.0,2640.7 1803.1,2649.1 1812.1,2657.5 1821.0,2666.0 1829.9,2674.5 1838.8,2683.1 1847.5,2691.8 1856.2,2700.6 1864.8,2709.4 1873.4,2718.3 1881.8,2727.3 1890.3,2736.3 1898.6,2745.4 1906.9,2754.5 1915.2,2763.7 1923.4,2772.9 1931.5,2782.2 1939.6,2791.5 1947.6,2800.9 1955.5,2810.3 1963.4,2819.8 1971.3,2829.3 1979.1,2838.8 1986.8,2848.4 1994.5,2858.1 2002.1,2867.8 2009.7,2877.5 2017.3,2887.2 2024.8,2897.0 2032.2,2906.8 2039.6,2916.7 2046.9,2926.6 2054.2,2936.6 2061.4,2946.5 2068.6,2956.6 2075.7,2966.6 2082.8,2976.7 2089.8,2986.8 2096.8,2997.0 2103.7,3007.2 2110.5,3017.5 2117.3,3027.8 2124.0,3038.1 2130.7,3048.5 2137.3,3058.9 2143.8,3069.4 2150.3,3079.9 2156.7,3090.4 2163.0,3101.0 1472.0,3101.0" fill="#aac6f8"/>
<polygon points="1472.0,2574.8 1481.2,2578.7 1490.4,2582.6 1499.6,2586.6 1508.9,2590.7 1518.1,2594.9 1527.4,2599.1 1536.6,2603.4 1545.9,2607.8 1555.1,2612.2 1564.2,2616.8 1573.4,2621.4 1582.5,2626.1 1591.5,2630.9 1600.5,2635.8 1609.4,2640.8 1618.3,2645.8 1627.1,2651.0 1635.9,2656.3 1644.6,2661.6 1653.3,2667.0 1661.8,2672.6 1670.3,2678.2 1678.8,2683.9 1687.1,2689.7 1695.4,2695.6 1703.6,2701.5 1711.8,2707.6 1719.9,2713.7 1727.9,2719.9 1735.9,2726.2 1743.8,2732.5 1751.6,2739.0 1759.4,2745.5 1767.1,2752.1 1774.7,2758.7 1782.3,2765.4 1789.8,2772.2 1797.3,2779.1 1804.7,2786.0 1812.1,2792.9 1819.4,2800.0 1826.7,2807.0 1833.9,2814.2 1841.1,2821.3 1848.3,2828.6 1855.3,2835.9 1862.4,2843.2 1869.4,2850.6 1876.4,2858.0 1883.3,2865.4 1890.2,2872.9 1897.1,2880.5 1903.9,2888.0 1910.7,2895.7 1917.4,2903.3 1924.1,2911.0 1930.7,2918.7 1937.4,2926.5 1943.9,2934.3 1950.5,2942.1 1956.9,2950.0 1963.3,2958.0 1969.7,2965.9 1976.0,2973.9 1982.3,2982.0 1988.4,2990.1 1994.5,2998.2 2000.6,3006.4 2006.5,3014.7 2012.3,3023.0 2018.1,3031.3 2023.7,3039.8 2029.3,3048.3 2034.7,3056.9 2039.9,3065.5 2045.0,3074.3 2050.0,3083.1 2054.8,3092.0 2059.4,3101.0 1740.2,3101.0 1742.7,3105.4 1745.3,3110.0 1748.0,3114.6 1750.5,3119.3 1753.1,3123.9 1755.6,3128.6 1472.0,3128.6" fill="#a8effc"/>
<line x1="1472.00" y1="2383.96" x2="1472.00" y2="3156.20" stroke="#0c0d14" stroke-width="1.9" stroke-linecap="butt"/>
<line x1="1542.00" y1="2383.96" x2="1542.00" y2="3156.20" stroke="#0c0d14" stroke-width="1.5" stroke-linecap="butt"/>
<line x1="1612.00" y1="2383.96" x2="1612.00" y2="3156.20" stroke="#0c0d14" stroke-width="2.5" stroke-linecap="butt"/>
<line x1="1683.00" y1="2383.96" x2="1683.00" y2="3156.20" stroke="#0c0d14" stroke-width="1.5" stroke-linecap="butt"/>
<line x1="1753.00" y1="2383.96" x2="1753.00" y2="3156.20" stroke="#0c0d14" stroke-width="2.5" stroke-linecap="butt"/>
<line x1="1823.00" y1="2383.96" x2="1823.00" y2="3156.20" stroke="#0c0d14" stroke-width="1.5" stroke-linecap="butt"/>
<line x1="1893.00" y1="2383.96" x2="1893.00" y2="3156.20" stroke="#0c0d14" stroke-width="2.5" stroke-linecap="butt"/>
<line x1="1963.00" y1="2383.96" x2="1963.00" y2="3156.20" stroke="#0c0d14" stroke-width="1.5" stroke-linecap="butt"/>
<line x1="2034.00" y1="2383.96" x2="2034.00" y2="3156.20" stroke="#0c0d14" stroke-width="2.5" stroke-linecap="butt"/>
<line x1="2104.00" y1="2383.96" x2="2104.00" y2="3156.20" stroke="#0c0d14" stroke-width="1.5" stroke-linecap="butt"/>
<line x1="2174.00" y1="2549.44" x2="2174.00" y2="3156.20" stroke="#0c0d14" stroke-width="2.5" stroke-linecap="butt"/>
<line x1="2244.00" y1="2383.96" x2="2244.00" y2="3156.20" stroke="#0c0d14" stroke-width="1.9" stroke-linecap="butt"/>
<line x1="1471.05" y1="3156.00" x2="2245.15" y2="3156.00" stroke="#0c0d14" stroke-width="1.9" stroke-linecap="butt"/>
<line x1="1472.00" y1="3101.00" x2="2244.20" y2="3101.00" stroke="#0c0d14" stroke-width="1.5" stroke-linecap="butt"/>
<line x1="1472.00" y1="3046.00" x2="2244.20" y2="3046.00" stroke="#0c0d14" stroke-width="1.5" stroke-linecap="butt"/>
<line x1="1472.00" y1="2991.00" x2="2244.20" y2="2991.00" stroke="#0c0d14" stroke-width="1.5" stroke-linecap="butt"/>
<line x1="1472.00" y1="2936.00" x2="2244.20" y2="2936.00" stroke="#0c0d14" stroke-width="1.5" stroke-linecap="butt"/>
<line x1="1472.00" y1="2880.00" x2="2244.20" y2="2880.00" stroke="#0c0d14" stroke-width="2.5" stroke-linecap="butt"/>
<line x1="1472.00" y1="2825.00" x2="2244.20" y2="2825.00" stroke="#0c0d14" stroke-width="1.5" stroke-linecap="butt"/>
<line x1="1472.00" y1="2770.00" x2="2244.20" y2="2770.00" stroke="#0c0d14" stroke-width="1.5" stroke-linecap="butt"/>
<line x1="1472.00" y1="2715.00" x2="2244.20" y2="2715.00" stroke="#0c0d14" stroke-width="1.5" stroke-linecap="butt"/>
<line x1="1472.00" y1="2660.00" x2="2244.20" y2="2660.00" stroke="#0c0d14" stroke-width="1.5" stroke-linecap="butt"/>
<line x1="1472.00" y1="2605.00" x2="2244.20" y2="2605.00" stroke="#0c0d14" stroke-width="2.5" stroke-linecap="butt"/>
<line x1="1472.00" y1="2549.00" x2="2244.20" y2="2549.00" stroke="#0c0d14" stroke-width="1.5" stroke-linecap="butt"/>
<line x1="1472.00" y1="2494.00" x2="2103.80" y2="2494.00" stroke="#0c0d14" stroke-width="1.5" stroke-linecap="butt"/>
<line x1="1472.00" y1="2439.00" x2="2103.80" y2="2439.00" stroke="#0c0d14" stroke-width="1.5" stroke-linecap="butt"/>
<line x1="1471.05" y1="2384.00" x2="2245.15" y2="2384.00" stroke="#0c0d14" stroke-width="1.9" stroke-linecap="butt"/>
<line x1="1472.00" y1="3073.00" x2="1793.94" y2="3073.00" stroke="#0c0d14" stroke-width="3.5" stroke-linecap="butt"/>
<line x1="1472.00" y1="3101.00" x2="2163.05" y2="3101.00" stroke="#0c0d14" stroke-width="3.5" stroke-linecap="butt"/>
<line x1="1472.00" y1="3129.00" x2="1755.61" y2="3129.00" stroke="#0c0d14" stroke-width="3.5" stroke-linecap="butt"/>
<rect transform="translate(1800.6,2700.6) rotate(46.0)" x="-4" y="-31.5" width="114.8" height="36.5" fill="#aac6f8"/>
<rect transform="translate(1682.7,2730.7) rotate(42.7)" x="-4" y="-31.5" width="244.0" height="36.5" fill="#a8effc"/>
<rect transform="translate(1575.9,2875.4) rotate(36.4)" x="-4" y="-31.5" width="154.4" height="39.5" fill="#a8effc"/>
<rect transform="translate(1596.5,2979.3) rotate(47.0)" x="-4" y="-31.5" width="114.8" height="36.5" fill="#a8effc"/>
<rect transform="translate(1752.3,2954.7) rotate(65.4)" x="-4" y="-31.5" width="113.5" height="36.5" fill="#a8effc"/>
<rect transform="translate(1828.7,2957.1) rotate(55.0)" x="-4" y="-31.5" width="154.4" height="39.5" fill="#a8effc"/>
<polyline points="1472.0,2439.1 1483.6,2443.4 1495.1,2447.8 1506.6,2452.4 1518.0,2457.2 1529.3,2462.1 1540.5,2467.3 1551.6,2472.6 1562.7,2478.1 1573.7,2483.7 1584.5,2489.5 1595.3,2495.4 1606.1,2501.5 1616.7,2507.8 1627.2,2514.1 1637.7,2520.7 1648.1,2527.3 1658.4,2534.1 1668.6,2541.0 1678.7,2548.0 1688.8,2555.2 1698.7,2562.4 1708.6,2569.8 1718.4,2577.3 1728.1,2584.9 1737.8,2592.6 1747.3,2600.4 1756.8,2608.3 1766.2,2616.3 1775.5,2624.3 1784.8,2632.5 1794.0,2640.7 1803.1,2649.1 1812.1,2657.5 1821.0,2666.0 1829.9,2674.5 1838.8,2683.1 1847.5,2691.8 1856.2,2700.6 1864.8,2709.4 1873.4,2718.3 1881.8,2727.3 1890.3,2736.3 1898.6,2745.4 1906.9,2754.5 1915.2,2763.7 1923.4,2772.9 1931.5,2782.2 1939.6,2791.5 1947.6,2800.9 1955.5,2810.3 1963.4,2819.8 1971.3,2829.3 1979.1,2838.8 1986.8,2848.4 1994.5,2858.1 2002.1,2867.8 2009.7,2877.5 2017.3,2887.2 2024.8,2897.0 2032.2,2906.8 2039.6,2916.7 2046.9,2926.6 2054.2,2936.6 2061.4,2946.5 2068.6,2956.6 2075.7,2966.6 2082.8,2976.7 2089.8,2986.8 2096.8,2997.0 2103.7,3007.2 2110.5,3017.5 2117.3,3027.8 2124.0,3038.1 2130.7,3048.5 2137.3,3058.9 2143.8,3069.4 2150.3,3079.9 2156.7,3090.4 2163.0,3101.0" fill="none" stroke="#0c0d14" stroke-width="3.6" stroke-linejoin="round"/>
<polyline points="1472.0,2574.8 1481.2,2578.7 1490.4,2582.6 1499.6,2586.6 1508.9,2590.7 1518.1,2594.9 1527.4,2599.1 1536.6,2603.4 1545.9,2607.8 1555.1,2612.2 1564.2,2616.8 1573.4,2621.4 1582.5,2626.1 1591.5,2630.9 1600.5,2635.8 1609.4,2640.8 1618.3,2645.8 1627.1,2651.0 1635.9,2656.3 1644.6,2661.6 1653.3,2667.0 1661.8,2672.6 1670.3,2678.2 1678.8,2683.9 1687.1,2689.7 1695.4,2695.6 1703.6,2701.5 1711.8,2707.6 1719.9,2713.7 1727.9,2719.9 1735.9,2726.2 1743.8,2732.5 1751.6,2739.0 1759.4,2745.5 1767.1,2752.1 1774.7,2758.7 1782.3,2765.4 1789.8,2772.2 1797.3,2779.1 1804.7,2786.0 1812.1,2792.9 1819.4,2800.0 1826.7,2807.0 1833.9,2814.2 1841.1,2821.3 1848.3,2828.6 1855.3,2835.9 1862.4,2843.2 1869.4,2850.6 1876.4,2858.0 1883.3,2865.4 1890.2,2872.9 1897.1,2880.5 1903.9,2888.0 1910.7,2895.7 1917.4,2903.3 1924.1,2911.0 1930.7,2918.7 1937.4,2926.5 1943.9,2934.3 1950.5,2942.1 1956.9,2950.0 1963.3,2958.0 1969.7,2965.9 1976.0,2973.9 1982.3,2982.0 1988.4,2990.1 1994.5,2998.2 2000.6,3006.4 2006.5,3014.7 2012.3,3023.0 2018.1,3031.3 2023.7,3039.8 2029.3,3048.3 2034.7,3056.9 2039.9,3065.5 2045.0,3074.3 2050.0,3083.1 2054.8,3092.0 2059.4,3101.0" fill="none" stroke="#0c0d14" stroke-width="3.6" stroke-linejoin="round"/>
<polyline points="1472.0,2659.8 1478.1,2664.7 1484.2,2669.6 1490.3,2674.5 1496.4,2679.4 1502.6,2684.2 1508.8,2689.1 1515.0,2693.9 1521.2,2698.7 1527.5,2703.5 1533.7,2708.4 1539.9,2713.2 1546.2,2718.0 1552.4,2722.8 1558.7,2727.7 1564.9,2732.5 1571.1,2737.4 1577.4,2742.2 1583.6,2747.1 1589.8,2752.0 1595.9,2756.9 1602.1,2761.9 1608.3,2766.8 1614.4,2771.8 1620.5,2776.8 1626.6,2781.8 1632.6,2786.9 1638.6,2792.0 1644.6,2797.1 1650.6,2802.2 1656.6,2807.4 1662.5,2812.6 1668.3,2817.8 1674.2,2823.1 1680.0,2828.4 1685.8,2833.8 1691.5,2839.2 1697.2,2844.6 1702.9,2850.0 1708.5,2855.5 1714.1,2861.1 1719.6,2866.6 1725.1,2872.2 1730.6,2877.9 1736.0,2883.6 1741.4,2889.3 1746.7,2895.0 1752.0,2900.8 1757.3,2906.7 1762.5,2912.5 1767.7,2918.4 1772.9,2924.4 1778.0,2930.4 1783.1,2936.4 1788.1,2942.4 1793.1,2948.5 1798.0,2954.6 1803.0,2960.8 1807.9,2966.9 1812.7,2973.1 1817.5,2979.4 1822.3,2985.6 1827.1,2991.9 1831.8,2998.2 1836.5,3004.5 1841.2,3010.9 1845.8,3017.3 1850.5,3023.7 1855.1,3030.1 1859.6,3036.5 1864.2,3042.9 1868.7,3049.4 1873.3,3055.8 1877.8,3062.3 1882.3,3068.7 1886.8,3075.2 1891.3,3081.7 1895.8,3088.1 1900.2,3094.6 1904.7,3101.0" fill="none" stroke="#0c0d14" stroke-width="3.6" stroke-linejoin="round"/>
<polyline points="1472.0,2631.4 1474.9,2636.5 1477.9,2641.5 1481.0,2646.3 1484.2,2651.1 1487.5,2655.7 1490.9,2660.3 1494.4,2664.7 1498.0,2669.1 1501.6,2673.4 1505.3,2677.5 1509.1,2681.7 1512.9,2685.7 1516.8,2689.7 1520.7,2693.6 1524.7,2697.5 1528.8,2701.3 1532.9,2705.1 1537.0,2708.8 1541.2,2712.5 1545.4,2716.1 1549.6,2719.8 1553.9,2723.4 1558.2,2727.0 1562.4,2730.5 1566.8,2734.1 1571.1,2737.7 1575.4,2741.2 1579.8,2744.7 1584.1,2748.3 1588.4,2751.9 1592.8,2755.4 1597.1,2759.0 1601.4,2762.6 1605.8,2766.2 1610.1,2769.8 1614.3,2773.5 1618.6,2777.1 1622.8,2780.8 1627.1,2784.6 1631.2,2788.3 1635.4,2792.1 1639.5,2795.9 1643.6,2799.8 1647.7,2803.7 1651.7,2807.6 1655.6,2811.6 1659.6,2815.6 1663.5,2819.7 1667.3,2823.8 1671.1,2827.9 1674.8,2832.1 1678.5,2836.4 1682.1,2840.6 1685.7,2845.0 1689.2,2849.4 1692.7,2853.8 1696.0,2858.3 1699.4,2862.8 1702.6,2867.4 1705.8,2872.0 1709.0,2876.6 1712.0,2881.3 1715.0,2886.1 1718.0,2890.9 1720.8,2895.7 1723.6,2900.6 1726.3,2905.5 1728.9,2910.5 1731.5,2915.5 1734.0,2920.5 1736.4,2925.6 1738.7,2930.7 1741.0,2935.9 1743.1,2941.0 1745.2,2946.2 1747.2,2951.5 1749.2,2956.7 1751.0,2962.0 1752.8,2967.3" fill="none" stroke="#0c0d14" stroke-width="3.6" stroke-linejoin="round"/>
<polyline points="1752.8,2967.3 1793.9,3073.5" fill="none" stroke="#0c0d14" stroke-width="3.6" stroke-linejoin="round"/>
<polyline points="1472.0,2825.2 1476.4,2828.6 1480.8,2832.0 1485.3,2835.2 1489.8,2838.4 1494.4,2841.6 1499.0,2844.6 1503.6,2847.7 1508.3,2850.7 1512.9,2853.7 1517.6,2856.6 1522.4,2859.5 1527.1,2862.4 1531.8,2865.2 1536.6,2868.0 1541.4,2870.9 1546.2,2873.7 1551.0,2876.5 1555.7,2879.3 1560.5,2882.0 1565.3,2884.8 1570.1,2887.6 1574.9,2890.4 1579.7,2893.2 1584.5,2896.1 1589.2,2898.9 1594.0,2901.8 1598.7,2904.6 1603.4,2907.5 1608.2,2910.4 1612.8,2913.4 1617.5,2916.4 1622.2,2919.4 1626.8,2922.4 1631.4,2925.5 1636.0,2928.6 1640.5,2931.7 1645.1,2934.9 1649.6,2938.1 1654.1,2941.3 1658.5,2944.6 1662.9,2947.9 1667.3,2951.3 1671.7,2954.7 1676.0,2958.1 1680.3,2961.6 1684.5,2965.2 1688.8,2968.7 1693.0,2972.4 1697.1,2976.0 1701.2,2979.7 1705.3,2983.5 1709.4,2987.3 1713.4,2991.1 1717.4,2995.0 1721.3,2998.9 1725.2,3002.8 1729.1,3006.8 1732.9,3010.8 1736.7,3014.9 1740.5,3019.0 1744.3,3023.1 1748.0,3027.3 1751.6,3031.5 1755.3,3035.7 1758.9,3040.0 1762.4,3044.2 1766.0,3048.5 1769.5,3052.9 1773.0,3057.2 1776.4,3061.5 1779.9,3065.9 1783.3,3070.3 1786.6,3074.7 1790.0,3079.1 1793.3,3083.5 1796.6,3087.9 1799.9,3092.3 1803.2,3096.7 1806.4,3101.0" fill="none" stroke="#0c0d14" stroke-width="3.6" stroke-linejoin="round"/>
<polyline points="1472.0,2825.2 1476.7,2827.9 1481.3,2830.6 1485.9,2833.3 1490.4,2836.1 1494.9,2838.9 1499.4,2841.8 1503.9,2844.7 1508.3,2847.7 1512.7,2850.7 1517.0,2853.8 1521.4,2856.8 1525.7,2860.0 1529.9,2863.1 1534.2,2866.3 1538.4,2869.6 1542.6,2872.8 1546.7,2876.1 1550.9,2879.5 1555.0,2882.8 1559.0,2886.2 1563.1,2889.7 1567.1,2893.1 1571.1,2896.6 1575.1,2900.2 1579.0,2903.7 1582.9,2907.3 1586.8,2910.9 1590.7,2914.6 1594.6,2918.2 1598.4,2921.9 1602.2,2925.6 1606.0,2929.4 1609.7,2933.1 1613.5,2936.9 1617.2,2940.8 1620.9,2944.6 1624.5,2948.5 1628.2,2952.3 1631.8,2956.3 1635.4,2960.2 1638.9,2964.1 1642.5,2968.1 1646.0,2972.1 1649.5,2976.1 1653.0,2980.1 1656.4,2984.2 1659.9,2988.3 1663.3,2992.4 1666.7,2996.5 1670.0,3000.6 1673.3,3004.8 1676.7,3008.9 1679.9,3013.1 1683.2,3017.3 1686.4,3021.6 1689.7,3025.8 1692.8,3030.1 1696.0,3034.3 1699.1,3038.6 1702.2,3043.0 1705.3,3047.3 1708.4,3051.6 1711.4,3056.0 1714.4,3060.4 1717.4,3064.8 1720.3,3069.3 1723.2,3073.7 1726.1,3078.2 1728.9,3082.7 1731.7,3087.2 1734.5,3091.7 1737.3,3096.2 1740.0,3100.8 1742.7,3105.4 1745.3,3110.0 1748.0,3114.6 1750.5,3119.3 1753.1,3123.9 1755.6,3128.6" fill="none" stroke="#0c0d14" stroke-width="3.6" stroke-linejoin="round"/>
<text transform="translate(1800.6,2700.6) rotate(46.0) scale(1,1)" font-size="31" font-weight="bold" fill="#0c0d14">NK2-22</text>
<text transform="translate(1682.7,2730.7) rotate(42.7) scale(1,1)" font-size="31" font-weight="bold" fill="#0c0d14">LB-1500/NK2-15</text>
<text transform="translate(1575.9,2875.4) rotate(36.4) scale(1,1)" font-size="31" font-weight="bold" fill="#0c0d14">LB-480(A)</text>
<text transform="translate(1596.5,2979.3) rotate(47.0) scale(1,1)" font-size="31" font-weight="bold" fill="#0c0d14">HS2.4S</text>
<text transform="translate(1752.3,2954.7) rotate(65.4) scale(0.85,1)" font-size="31" font-weight="bold" fill="#0c0d14">HS3.75S</text>
<text transform="translate(1828.7,2957.1) rotate(55.0) scale(1,1)" font-size="31" font-weight="bold" fill="#0c0d14">LB-800(A)</text>
<text transform="translate(2234.6,2475.4) scale(1.153,1)" font-size="98" font-weight="bold" fill="#0c0d14" text-anchor="end">60</text>
<text transform="translate(2236.5,2526.8) scale(1.06,1)" font-size="57" font-weight="bold" fill="#0c0d14" text-anchor="end">Hz</text>
<text x="1456.3" y="2393.8" font-size="30.5" text-anchor="end" fill="#0c0d14" letter-spacing="3.0" stroke="#0c0d14" stroke-width="0.45">28</text>
<text x="1456.3" y="2619.8" font-size="30.5" text-anchor="end" fill="#0c0d14" letter-spacing="3.0" stroke="#0c0d14" stroke-width="0.45">20</text>
<text x="1456.3" y="2895.6" font-size="30.5" text-anchor="end" fill="#0c0d14" letter-spacing="3.0" stroke="#0c0d14" stroke-width="0.45">10</text>
<text x="1456.3" y="3171.2" font-size="30.5" text-anchor="end" fill="#0c0d14" letter-spacing="3.0" stroke="#0c0d14" stroke-width="0.45">0</text>
<text x="1473.3" y="3206.6" font-size="30.5" text-anchor="middle" fill="#0c0d14" letter-spacing="2.7" stroke="#0c0d14" stroke-width="0.45">0</text>
<text x="1613.8" y="3206.6" font-size="30.5" text-anchor="middle" fill="#0c0d14" letter-spacing="2.7" stroke="#0c0d14" stroke-width="0.45">0.1</text>
<text x="1754.1" y="3206.6" font-size="30.5" text-anchor="middle" fill="#0c0d14" letter-spacing="2.7" stroke="#0c0d14" stroke-width="0.45">0.2</text>
<text x="1894.5" y="3206.6" font-size="30.5" text-anchor="middle" fill="#0c0d14" letter-spacing="2.7" stroke="#0c0d14" stroke-width="0.45">0.3</text>
<text x="2034.9" y="3206.6" font-size="30.5" text-anchor="middle" fill="#0c0d14" letter-spacing="2.7" stroke="#0c0d14" stroke-width="0.45">0.4</text>
<text x="2174.0" y="3206.7" font-size="36" text-anchor="middle" fill="#0c0d14" stroke="#0c0d14" stroke-width="0.45">0.5</text>
<text x="1858.9" y="3256.8" font-size="30.5" text-anchor="middle" fill="#0c0d14" letter-spacing="1.9" stroke="#0c0d14" stroke-width="0.45">Capacity (m<tspan font-size="19" dy="-12.5">3</tspan><tspan dy="12.5">/min)</tspan></text>
<text transform="translate(1370.5,2770.1) rotate(-90)" font-size="30.5" text-anchor="middle" fill="#0c0d14" letter-spacing="2.2" stroke="#0c0d14" stroke-width="0.45">Total Head (m)</text>
<text x="1268.20" y="3464.90" font-size="33.33" text-anchor="middle" font-weight="normal" fill="#0c0d14" stroke="#0c0d14" stroke-width="0.35">1</text>
</svg>
</body></html>
